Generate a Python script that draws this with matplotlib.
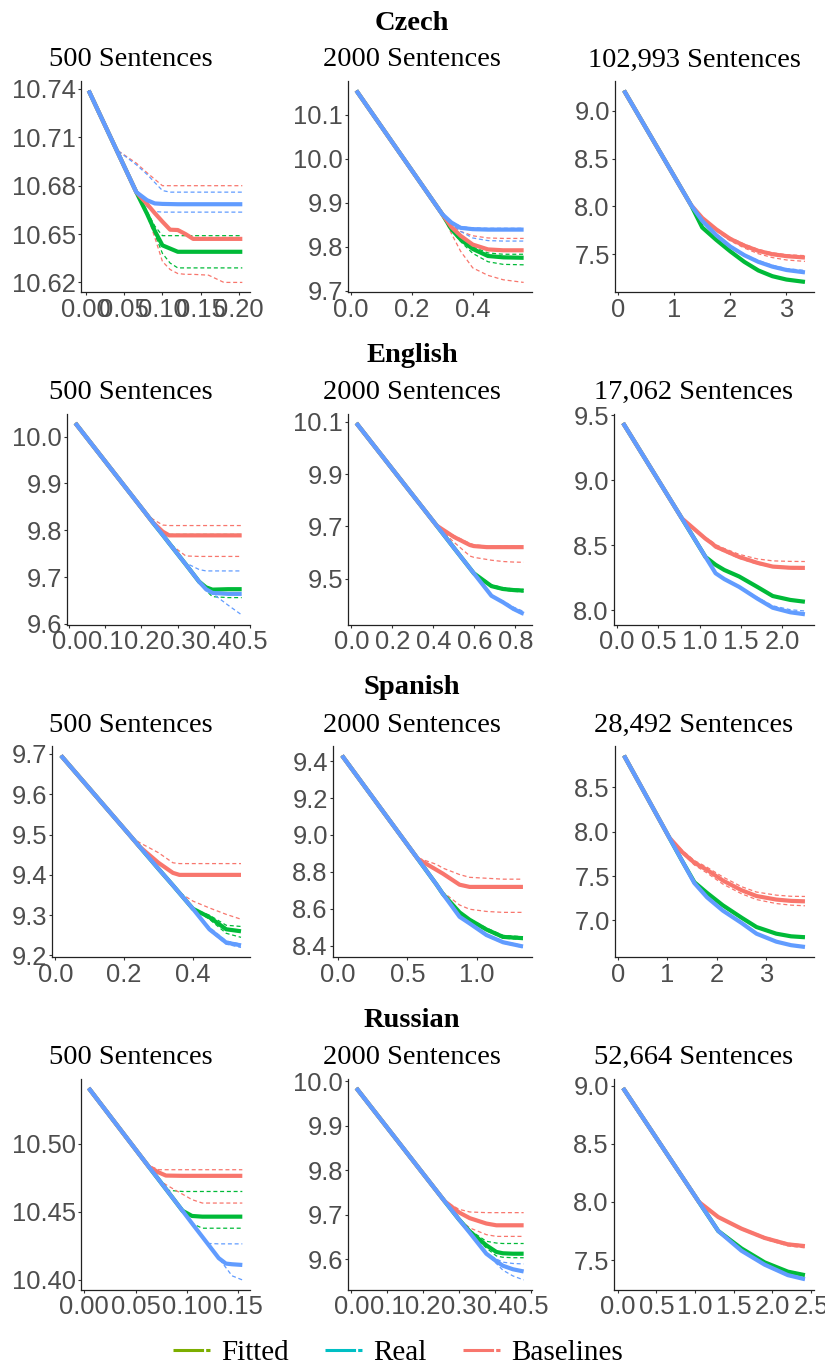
import matplotlib
matplotlib.use("Agg")
import matplotlib.pyplot as plt
from matplotlib.lines import Line2D
from matplotlib.ticker import FixedLocator, FormatStrFormatter

# ---------- data (x = training progress, y = loss) ----------
CZ_500_X = [0.004, 0.04, 0.066, 0.08, 0.09, 0.10, 0.11, 0.12, 0.13, 0.14, 0.16, 0.18, 0.204]
CZ_500 = {
    "real":    [10.739, 10.7024, 10.676, 10.671, 10.669, 10.6687, 10.6686, 10.6685, 10.6685, 10.6685, 10.6685, 10.6685, 10.6685],
    "real_hi": [10.739, 10.7024, 10.693, 10.687, 10.682, 10.677, 10.676, 10.676, 10.676, 10.676, 10.676, 10.676, 10.676],
    "real_lo": [10.739, 10.7024, 10.676, 10.667, 10.664, 10.6636, 10.6636, 10.6636, 10.6636, 10.6636, 10.6636, 10.6636, 10.6636],
    "fit":     [10.739, 10.7024, 10.676, 10.6625, 10.652, 10.643, 10.641, 10.639, 10.639, 10.639, 10.639, 10.639, 10.639],
    "fit_hi":  [10.739, 10.7024, 10.676, 10.664, 10.655, 10.649, 10.649, 10.649, 10.649, 10.649, 10.649, 10.649, 10.649],
    "fit_lo":  [10.739, 10.7024, 10.676, 10.662, 10.650, 10.638, 10.632, 10.629, 10.629, 10.629, 10.629, 10.629, 10.629],
    "base":    [10.739, 10.7024, 10.676, 10.6686, 10.663, 10.6577, 10.6527, 10.6525, 10.650, 10.647, 10.647, 10.647, 10.647],
    "base_hi": [10.739, 10.7024, 10.694, 10.688, 10.684, 10.680, 10.680, 10.680, 10.680, 10.680, 10.680, 10.680, 10.680],
    "base_lo": [10.739, 10.7024, 10.676, 10.662, 10.648, 10.633, 10.628, 10.6255, 10.625, 10.625, 10.6245, 10.620, 10.620],
}

CZ_2000_X = [0.018, 0.30, 0.33, 0.36, 0.40, 0.45, 0.50, 0.567]
CZ_2000 = {
    "real":    [10.155, 9.874, 9.855, 9.843, 9.840, 9.839, 9.839, 9.839],
    "real_hi": [10.155, 9.874, 9.857, 9.846, 9.843, 9.842, 9.842, 9.842],
    "real_lo": [10.155, 9.874, 9.852, 9.835, 9.820, 9.814, 9.813, 9.813],
    "fit":     [10.155, 9.874, 9.840, 9.817, 9.795, 9.779, 9.776, 9.775],
    "fit_hi":  [10.155, 9.874, 9.845, 9.822, 9.800, 9.786, 9.783, 9.783],
    "fit_lo":  [10.155, 9.874, 9.838, 9.812, 9.785, 9.766, 9.760, 9.759],
    "base":    [10.155, 9.874, 9.845, 9.825, 9.805, 9.794, 9.792, 9.792],
    "base_hi": [10.155, 9.874, 9.850, 9.835, 9.825, 9.820, 9.819, 9.819],
    "base_lo": [10.155, 9.874, 9.830, 9.790, 9.752, 9.735, 9.725, 9.719],
}

CZ_FULL_X = [0.107, 1.30, 1.5, 1.75, 2.0, 2.25, 2.5, 2.75, 3.0, 3.33]
CZ_FULL = {
    "real":    [9.213, 8.015, 7.850, 7.700, 7.580, 7.490, 7.420, 7.370, 7.335, 7.310],
    "real_hi": [9.213, 8.015, 7.855, 7.710, 7.590, 7.500, 7.435, 7.385, 7.350, 7.330],
    "real_lo": [9.213, 8.015, 7.848, 7.698, 7.576, 7.485, 7.415, 7.365, 7.330, 7.305],
    "fit":     [9.213, 8.015, 7.780, 7.650, 7.530, 7.420, 7.330, 7.270, 7.235, 7.210],
    "fit_hi":  [9.213, 8.015, 7.785, 7.655, 7.535, 7.425, 7.335, 7.275, 7.240, 7.215],
    "fit_lo":  [9.213, 8.015, 7.775, 7.645, 7.525, 7.415, 7.325, 7.265, 7.230, 7.205],
    "base":    [9.213, 8.015, 7.880, 7.760, 7.660, 7.590, 7.535, 7.500, 7.480, 7.465],
    "base_hi": [9.213, 8.015, 7.885, 7.770, 7.675, 7.605, 7.550, 7.515, 7.495, 7.485],
    "base_lo": [9.213, 8.015, 7.875, 7.745, 7.640, 7.565, 7.505, 7.465, 7.440, 7.425],
}

EN_500_X = [0.0166, 0.209, 0.231, 0.259, 0.277, 0.323, 0.36, 0.379, 0.397, 0.44, 0.478]
EN_500 = {
    "real":    [10.029, 9.839, 9.817, 9.790, 9.772, 9.727, 9.690, 9.674, 9.666, 9.664, 9.664],
    "real_hi": [10.029, 9.839, 9.817, 9.790, 9.772, 9.730, 9.716, 9.713, 9.713, 9.713, 9.713],
    "real_lo": [10.029, 9.839, 9.817, 9.790, 9.772, 9.727, 9.690, 9.675, 9.665, 9.640, 9.619],
    "fit":     [10.029, 9.839, 9.817, 9.790, 9.772, 9.727, 9.690, 9.678, 9.673, 9.674, 9.674],
    "fit_hi":  [10.029, 9.839, 9.817, 9.790, 9.791, 9.791, 9.791, 9.791, 9.791, 9.791, 9.791],
    "fit_lo":  [10.029, 9.839, 9.817, 9.790, 9.772, 9.727, 9.690, 9.671, 9.658, 9.656, 9.656],
    "base":    [10.029, 9.839, 9.817, 9.797, 9.789, 9.789, 9.789, 9.789, 9.789, 9.789, 9.789],
    "base_hi": [10.029, 9.839, 9.824, 9.811, 9.810, 9.810, 9.810, 9.810, 9.810, 9.810, 9.810],
    "base_lo": [10.029, 9.839, 9.817, 9.790, 9.772, 9.745, 9.744, 9.744, 9.744, 9.744, 9.744],
}

EN_2000_X = [0.024, 0.416, 0.5, 0.578, 0.597, 0.66, 0.683, 0.74, 0.79, 0.84]
EN_2000 = {
    "real":    [10.095, 9.703, 9.618, 9.540, 9.521, 9.458, 9.435, 9.410, 9.385, 9.366],
    "real_hi": [10.095, 9.703, 9.618, 9.540, 9.521, 9.458, 9.435, 9.415, 9.392, 9.375],
    "real_lo": [10.095, 9.703, 9.618, 9.540, 9.521, 9.458, 9.435, 9.408, 9.381, 9.362],
    "fit":     [10.095, 9.703, 9.618, 9.540, 9.521, 9.485, 9.472, 9.461, 9.457, 9.455],
    "fit_hi":  [10.095, 9.703, 9.618, 9.540, 9.521, 9.490, 9.477, 9.466, 9.461, 9.459],
    "fit_lo":  [10.095, 9.703, 9.618, 9.540, 9.521, 9.482, 9.468, 9.457, 9.452, 9.450],
    "base":    [10.095, 9.703, 9.660, 9.629, 9.625, 9.621, 9.621, 9.621, 9.621, 9.621],
    "base_hi": [10.095, 9.703, 9.665, 9.635, 9.630, 9.625, 9.624, 9.624, 9.624, 9.624],
    "base_lo": [10.095, 9.703, 9.640, 9.587, 9.582, 9.574, 9.571, 9.566, 9.564, 9.563],
}

EN_FULL_X = [0.073, 0.786, 1.072, 1.153, 1.194, 1.30, 1.48, 1.70, 1.887, 2.10, 2.277]
EN_FULL = {
    "real":    [9.438, 8.706, 8.410, 8.327, 8.285, 8.240, 8.180, 8.090, 8.020, 7.985, 7.970],
    "real_hi": [9.438, 8.706, 8.410, 8.327, 8.285, 8.243, 8.185, 8.100, 8.035, 8.005, 7.995],
    "real_lo": [9.438, 8.706, 8.410, 8.327, 8.285, 8.238, 8.177, 8.087, 8.016, 7.980, 7.965],
    "fit":     [9.438, 8.706, 8.410, 8.370, 8.350, 8.310, 8.260, 8.180, 8.110, 8.080, 8.066],
    "fit_hi":  [9.438, 8.706, 8.410, 8.374, 8.355, 8.315, 8.265, 8.185, 8.115, 8.085, 8.071],
    "fit_lo":  [9.438, 8.706, 8.410, 8.366, 8.345, 8.305, 8.255, 8.175, 8.105, 8.075, 8.061],
    "base":    [9.438, 8.706, 8.550, 8.513, 8.490, 8.460, 8.410, 8.365, 8.336, 8.327, 8.326],
    "base_hi": [9.438, 8.706, 8.560, 8.525, 8.505, 8.475, 8.430, 8.395, 8.380, 8.376, 8.375],
    "base_lo": [9.438, 8.706, 8.545, 8.505, 8.480, 8.450, 8.400, 8.355, 8.330, 8.320, 8.318],
}

ES_500_X = [0.0166, 0.22, 0.245, 0.30, 0.342, 0.361, 0.40, 0.448, 0.497, 0.54]
ES_500 = {
    "real":    [9.696, 9.495, 9.470, 9.415, 9.374, 9.355, 9.316, 9.265, 9.232, 9.225],
    "real_hi": [9.696, 9.495, 9.470, 9.415, 9.374, 9.355, 9.316, 9.270, 9.236, 9.228],
    "real_lo": [9.696, 9.495, 9.470, 9.415, 9.374, 9.355, 9.316, 9.262, 9.228, 9.220],
    "fit":     [9.696, 9.495, 9.470, 9.415, 9.374, 9.355, 9.316, 9.295, 9.265, 9.260],
    "fit_hi":  [9.696, 9.495, 9.470, 9.415, 9.374, 9.355, 9.316, 9.300, 9.275, 9.272],
    "fit_lo":  [9.696, 9.495, 9.470, 9.415, 9.374, 9.355, 9.316, 9.290, 9.255, 9.245],
    "base":    [9.696, 9.495, 9.470, 9.430, 9.405, 9.400, 9.400, 9.400, 9.400, 9.400],
    "base_hi": [9.696, 9.495, 9.480, 9.455, 9.430, 9.428, 9.428, 9.428, 9.428, 9.428],
    "base_lo": [9.696, 9.495, 9.470, 9.415, 9.374, 9.356, 9.335, 9.318, 9.302, 9.290],
}

ES_2000_X = [0.031, 0.575, 0.71, 0.755, 0.875, 0.947, 1.068, 1.187, 1.33]
ES_2000 = {
    "real":    [9.43, 8.870, 8.730, 8.680, 8.556, 8.520, 8.457, 8.418, 8.395],
    "real_hi": [9.43, 8.870, 8.730, 8.680, 8.556, 8.523, 8.462, 8.423, 8.400],
    "real_lo": [9.43, 8.870, 8.730, 8.680, 8.556, 8.517, 8.452, 8.413, 8.390],
    "fit":     [9.43, 8.870, 8.730, 8.680, 8.580, 8.540, 8.487, 8.447, 8.440],
    "fit_hi":  [9.43, 8.870, 8.730, 8.680, 8.580, 8.545, 8.495, 8.455, 8.448],
    "fit_lo":  [9.43, 8.870, 8.730, 8.680, 8.580, 8.535, 8.480, 8.440, 8.433],
    "base":    [9.43, 8.870, 8.810, 8.790, 8.730, 8.718, 8.718, 8.718, 8.718],
    "base_hi": [9.43, 8.875, 8.840, 8.820, 8.785, 8.770, 8.765, 8.760, 8.760],
    "base_lo": [9.43, 8.870, 8.730, 8.690, 8.620, 8.597, 8.585, 8.580, 8.580],
}

ES_FULL_X = [0.122, 1.037, 1.3, 1.545, 1.8, 2.12, 2.5, 2.8, 3.2, 3.5, 3.78]
ES_FULL = {
    "real":    [8.86, 7.934, 7.668, 7.420, 7.260, 7.110, 6.970, 6.850, 6.760, 6.720, 6.700],
    "real_hi": [8.86, 7.934, 7.668, 7.420, 7.265, 7.115, 6.975, 6.855, 6.765, 6.725, 6.705],
    "real_lo": [8.86, 7.934, 7.668, 7.420, 7.255, 7.105, 6.965, 6.845, 6.755, 6.715, 6.695],
    "fit":     [8.86, 7.934, 7.668, 7.430, 7.310, 7.170, 7.030, 6.925, 6.850, 6.820, 6.810],
    "fit_hi":  [8.86, 7.934, 7.668, 7.435, 7.315, 7.175, 7.035, 6.930, 6.855, 6.825, 6.815],
    "fit_lo":  [8.86, 7.934, 7.668, 7.425, 7.305, 7.165, 7.025, 6.920, 6.845, 6.815, 6.805],
    "base":    [8.86, 7.934, 7.770, 7.650, 7.570, 7.450, 7.340, 7.275, 7.235, 7.220, 7.215],
    "base_hi": [8.86, 7.934, 7.790, 7.675, 7.600, 7.490, 7.380, 7.320, 7.285, 7.272, 7.270],
    "base_lo": [8.86, 7.934, 7.760, 7.625, 7.535, 7.410, 7.300, 7.235, 7.190, 7.172, 7.165],
}

RU_500_X = [0.0042, 0.063, 0.0725, 0.0795, 0.0957, 0.105, 0.115, 0.12, 0.131, 0.138, 0.144, 0.154]
RU_500 = {
    "real":    [10.541, 10.483, 10.4737, 10.4668, 10.4508, 10.4415, 10.4317, 10.4268, 10.416, 10.412, 10.4115, 10.411],
    "real_hi": [10.541, 10.483, 10.4737, 10.4668, 10.4508, 10.4415, 10.4317, 10.4268, 10.4265, 10.4265, 10.4265, 10.4265],
    "real_lo": [10.541, 10.483, 10.4737, 10.4668, 10.4508, 10.4415, 10.4317, 10.4268, 10.416, 10.409, 10.403, 10.400],
    "fit":     [10.541, 10.483, 10.4737, 10.4668, 10.4508, 10.447, 10.4465, 10.4465, 10.4465, 10.4465, 10.4465, 10.4465],
    "fit_hi":  [10.541, 10.483, 10.4737, 10.466, 10.465, 10.465, 10.465, 10.465, 10.465, 10.465, 10.465, 10.465],
    "fit_lo":  [10.541, 10.483, 10.4737, 10.4668, 10.4508, 10.4415, 10.438, 10.438, 10.438, 10.438, 10.438, 10.438],
    "base":    [10.541, 10.483, 10.479, 10.4767, 10.4765, 10.4765, 10.4765, 10.4765, 10.4765, 10.4765, 10.4765, 10.4765],
    "base_hi": [10.541, 10.484, 10.481, 10.481, 10.481, 10.481, 10.481, 10.481, 10.481, 10.481, 10.481, 10.481],
    "base_lo": [10.541, 10.483, 10.4737, 10.470, 10.463, 10.459, 10.4565, 10.4565, 10.4565, 10.4565, 10.4565, 10.4565],
}

RU_2000_X = [0.0138, 0.26, 0.30, 0.33, 0.376, 0.404, 0.422, 0.45, 0.48]
RU_2000 = {
    "real":    [9.985, 9.730, 9.689, 9.659, 9.612, 9.595, 9.585, 9.577, 9.572],
    "real_hi": [9.985, 9.730, 9.689, 9.659, 9.612, 9.600, 9.593, 9.590, 9.589],
    "real_lo": [9.985, 9.730, 9.689, 9.659, 9.612, 9.590, 9.575, 9.562, 9.553],
    "fit":     [9.985, 9.730, 9.689, 9.662, 9.631, 9.616, 9.613, 9.612, 9.612],
    "fit_hi":  [9.985, 9.730, 9.689, 9.665, 9.640, 9.636, 9.635, 9.635, 9.635],
    "fit_lo":  [9.985, 9.730, 9.689, 9.659, 9.625, 9.607, 9.604, 9.603, 9.603],
    "base":    [9.985, 9.730, 9.705, 9.692, 9.680, 9.676, 9.676, 9.676, 9.676],
    "base_hi": [9.985, 9.730, 9.712, 9.706, 9.7045, 9.7045, 9.7045, 9.7045, 9.7045],
    "base_lo": [9.985, 9.730, 9.690, 9.670, 9.655, 9.651, 9.651, 9.651, 9.651],
}

RU_FULL_X = [0.07, 1.05, 1.3, 1.6, 1.9, 2.2, 2.42]
RU_FULL = {
    "real":    [8.98, 8.00, 7.75, 7.580, 7.460, 7.370, 7.335],
    "real_hi": [8.98, 8.00, 7.75, 7.585, 7.466, 7.376, 7.341],
    "real_lo": [8.98, 8.00, 7.75, 7.575, 7.454, 7.364, 7.329],
    "fit":     [8.98, 8.00, 7.75, 7.600, 7.480, 7.400, 7.370],
    "fit_hi":  [8.98, 8.00, 7.75, 7.605, 7.486, 7.406, 7.376],
    "fit_lo":  [8.98, 8.00, 7.75, 7.595, 7.474, 7.394, 7.364],
    "base":    [8.98, 8.00, 7.870, 7.770, 7.690, 7.635, 7.620],
    "base_hi": [8.98, 8.00, 7.875, 7.778, 7.700, 7.645, 7.628],
    "base_lo": [8.98, 8.00, 7.865, 7.762, 7.680, 7.622, 7.605],
}

LANGUAGES = ["Czech", "English", "Spanish", "Russian"]
SUBTITLES = [
    ["500 Sentences", "2000 Sentences", "102,993 Sentences"],
    ["500 Sentences", "2000 Sentences", "17,062 Sentences"],
    ["500 Sentences", "2000 Sentences", "28,492 Sentences"],
    ["500 Sentences", "2000 Sentences", "52,664 Sentences"],
]
PANEL_DATA = [
    [(CZ_500_X, CZ_500), (CZ_2000_X, CZ_2000), (CZ_FULL_X, CZ_FULL)],
    [(EN_500_X, EN_500), (EN_2000_X, EN_2000), (EN_FULL_X, EN_FULL)],
    [(ES_500_X, ES_500), (ES_2000_X, ES_2000), (ES_FULL_X, ES_FULL)],
    [(RU_500_X, RU_500), (RU_2000_X, RU_2000), (RU_FULL_X, RU_FULL)],
]
# (x ticks, y ticks, x format, y format)
TICKS = [
    [([0, 0.05, 0.10, 0.15, 0.20], [10.62, 10.65, 10.68, 10.71, 10.74], "%.2f", "%.2f"),
     ([0, 0.2, 0.4], [9.7, 9.8, 9.9, 10.0, 10.1], "%.1f", "%.1f"),
     ([0, 1, 2, 3], [7.5, 8.0, 8.5, 9.0], "%d", "%.1f")],
    [([0, 0.1, 0.2, 0.3, 0.4, 0.5], [9.6, 9.7, 9.8, 9.9, 10.0], "%.1f", "%.1f"),
     ([0, 0.2, 0.4, 0.6, 0.8], [9.5, 9.7, 9.9, 10.1], "%.1f", "%.1f"),
     ([0, 0.5, 1.0, 1.5, 2.0], [8.0, 8.5, 9.0, 9.5], "%.1f", "%.1f")],
    [([0, 0.2, 0.4], [9.2, 9.3, 9.4, 9.5, 9.6, 9.7], "%.1f", "%.1f"),
     ([0, 0.5, 1.0], [8.4, 8.6, 8.8, 9.0, 9.2, 9.4], "%.1f", "%.1f"),
     ([0, 1, 2, 3], [7.0, 7.5, 8.0, 8.5], "%d", "%.1f")],
    [([0, 0.05, 0.10, 0.15], [10.40, 10.45, 10.50], "%.2f", "%.2f"),
     ([0, 0.1, 0.2, 0.3, 0.4, 0.5], [9.6, 9.7, 9.8, 9.9, 10.0], "%.1f", "%.1f"),
     ([0, 0.5, 1.0, 1.5, 2.0, 2.5], [7.5, 8.0, 8.5, 9.0], "%.1f", "%.1f")],
]

LEGEND_LABELS = ["Fitted", "Real", "Baselines"]
LEGEND_COLORS = ["#7CAE00", "#00BFC4", "#F8766D"]
LINE_COLORS = {"fit": "#00BA38", "base": "#F8766D", "real": "#619CFF"}

# ---------- layout (pixels on an 825 x 1370 canvas) ----------
W, H = 825, 1370
ROW_STEP = 332.5
AX_TOP, AX_BOTTOM = 81, 292
AX_LEFT = [[81, 348, 615], [67, 348, 614], [52, 333, 615], [81, 348, 614]]
AX_RIGHT = [250, 532, 814]
SUB_X = [130.5, 412, 694]

SERIF = "Liberation Serif"
SANS = "Liberation Sans"
TICK_GREY = "#4D4D4D"

fig = plt.figure(figsize=(W / 100, H / 100), dpi=100)

for r in range(4):
    off = r * ROW_STEP
    fig.text(412 / W, 1 - (29.5 + off) / H, LANGUAGES[r], ha="center", va="baseline",
             family=SERIF, fontsize=20.5, fontweight="bold")
    for c in range(3):
        fig.text(SUB_X[c] / W, 1 - (66.5 + off) / H, SUBTITLES[r][c], ha="center",
                 va="baseline", family=SERIF, fontsize=20.5)

        left, right = AX_LEFT[r][c], AX_RIGHT[c]
        top, bottom = AX_TOP + off, AX_BOTTOM + off
        ax = fig.add_axes([left / W, 1 - bottom / H, (right - left) / W, (bottom - top) / H])

        x, s = PANEL_DATA[r][c]
        # thin dashed bands first, thick solid lines on top (blue last)
        for key in ("fit", "base", "real"):
            for band in ("_lo", "_hi"):
                ax.plot(x, s[key + band], color=LINE_COLORS[key], lw=0.9,
                        linestyle=(0, (3.2, 2.2)))
        for key in ("fit", "base", "real"):
            ax.plot(x, s[key], color=LINE_COLORS[key], lw=3.0,
                    solid_capstyle="butt", solid_joinstyle="round")

        ax.margins(x=0.05, y=0.05)
        xt, yt, xf, yf = TICKS[r][c]
        ax.xaxis.set_major_locator(FixedLocator(xt))
        ax.yaxis.set_major_locator(FixedLocator(yt))
        ax.xaxis.set_major_formatter(FormatStrFormatter(xf))
        ax.yaxis.set_major_formatter(FormatStrFormatter(yf))

        for side in ("top", "right"):
            ax.spines[side].set_visible(False)
        for side in ("left", "bottom"):
            ax.spines[side].set_color("#222222")
            ax.spines[side].set_linewidth(0.9)
        ax.tick_params(direction="out", length=2.2, width=0.8, color="#333333",
                       labelsize=18.4, labelcolor=TICK_GREY)
        ax.tick_params(axis="y", pad=1.5)
        ax.tick_params(axis="x", pad=2.0)
        for lab in ax.get_xticklabels() + ax.get_yticklabels():
            lab.set_family(SANS)

# ---------- legend ----------
handles = [Line2D([], [], color=col, lw=2.2, linestyle=(0, (10, 0.7, 1.4, 20)))
           for col in LEGEND_COLORS]
fig.legend(handles, LEGEND_LABELS, loc="center", bbox_to_anchor=(398 / W, 1 - 1353 / H),
           ncol=3, frameon=False, prop={"family": SERIF, "size": 21},
           handlelength=1.3, handletextpad=0.35, columnspacing=1.25, borderaxespad=0)

fig.savefig("out.png", dpi=100)
